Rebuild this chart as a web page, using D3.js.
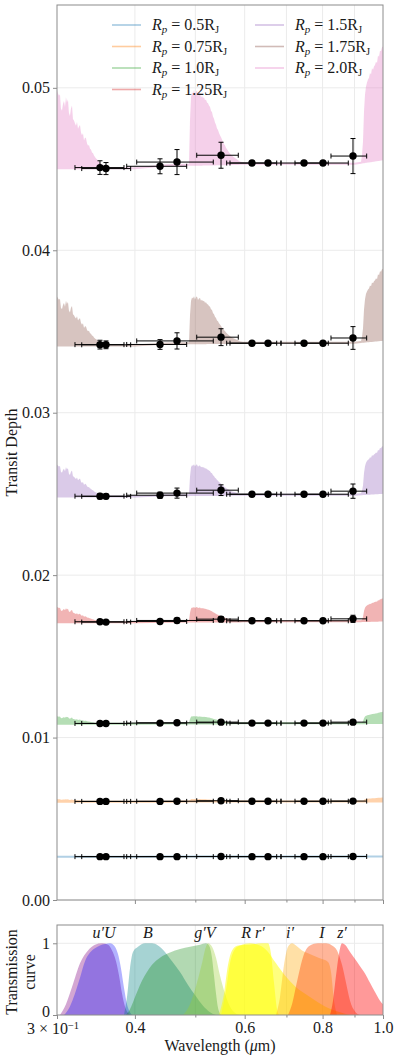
<!DOCTYPE html>
<html>
<head>
<meta charset="utf-8">
<script src="https://cdn.jsdelivr.net/npm/d3@7"></script>
<style>
  body { margin: 0; background: #fff; }
  svg text { font-family: "Liberation Serif", "DejaVu Serif", serif; fill: #1a1a1a; }
</style>
</head>
<body>
<div id="chart"></div>
<script>
// ---------------- data ----------------
// planet radii (legend) and matplotlib tab10 colours
var radii = ["0.5", "0.75", "1.0", "1.25", "1.5", "1.75", "2.0"];
var seriesColors = ["#1f77b4", "#ff7f0e", "#2ca02c", "#d62728", "#9467bd", "#8c564b", "#e377c2"];

// photometric bands: centre and extent (micron)
var bands  = ["u'", "U", "B", "g'", "V", "R", "r'", "i'", "I", "z'"];
var bandWl = [0.3516, 0.3595, 0.4389, 0.4673, 0.5498, 0.6164, 0.6540, 0.7470, 0.8012, 0.8951];
var bandLo = [0.3206, 0.3287, 0.3881, 0.4027, 0.5026, 0.5614, 0.5683, 0.6861, 0.7225, 0.8252];
var bandHi = [0.3842, 0.3938, 0.4843, 0.5343, 0.5860, 0.6753, 0.6861, 0.8170, 0.8797, 0.9415];

// binned transit depths per radius
var depthRp050 = [0.00267, 0.00267, 0.00267, 0.00267, 0.00268, 0.00267, 0.00267, 0.00267, 0.00267, 0.00268];
var depthRp075 = [0.00607, 0.00607, 0.00607, 0.00608, 0.00611, 0.00608, 0.00608, 0.00608, 0.00608, 0.00609];
var depthRp100 = [0.01087, 0.01087, 0.01089, 0.01091, 0.01095, 0.01089, 0.01089, 0.01089, 0.01089, 0.01095];
var depthRp125 = [0.01713, 0.01711, 0.01715, 0.01721, 0.01729, 0.01719, 0.01719, 0.01719, 0.01719, 0.01731];
var depthRp150 = [0.02486, 0.02485, 0.02492, 0.02505, 0.02523, 0.02498, 0.02498, 0.02498, 0.02498, 0.02517];
var depthRp175 = [0.03419, 0.03418, 0.03420, 0.03442, 0.03465, 0.03428, 0.03428, 0.03428, 0.03428, 0.03460];
var depthRp200 = [0.04509, 0.04503, 0.04517, 0.04543, 0.04585, 0.04537, 0.04537, 0.04537, 0.04537, 0.04580];

// 1-sigma errors on the depths
var errRp050 = [0.00002, 0.00002, 0.00002, 0.00003, 0.00003, 0.00001, 0.00001, 0.00001, 0.00001, 0.00004];
var errRp075 = [0.00003, 0.00003, 0.00003, 0.00005, 0.00005, 0.00001, 0.00001, 0.00001, 0.00001, 0.00007];
var errRp100 = [0.00004, 0.00004, 0.00005, 0.00008, 0.00008, 0.00001, 0.00001, 0.00001, 0.00001, 0.00011];
var errRp125 = [0.00008, 0.00007, 0.00009, 0.00015, 0.00016, 0.00003, 0.00003, 0.00003, 0.00003, 0.00022];
var errRp150 = [0.00017, 0.00015, 0.00019, 0.00031, 0.00033, 0.00005, 0.00005, 0.00005, 0.00005, 0.00044];
var errRp175 = [0.00027, 0.00024, 0.00030, 0.00050, 0.00052, 0.00007, 0.00007, 0.00007, 0.00007, 0.00070];
var errRp200 = [0.00042, 0.00037, 0.00046, 0.00077, 0.00080, 0.00010, 0.00010, 0.00010, 0.00010, 0.00108];

// model spectrum: continuum depth and feature amplitude per radius
var modelBase = [0.00267, 0.00605, 0.01085, 0.01710, 0.02484, 0.03414, 0.04505];
var modelAmp  = [0.00003, 0.00016, 0.00045, 0.00090, 0.00190, 0.00290, 0.00460];

// continuum shape (in units of the amplitude)
var floorWl    = [0.30, 0.40, 0.45, 0.60, 0.90, 0.93, 1.00];
var floorLevel = [0.00, 0.00, 0.04, 0.06, 0.06, 0.08, 0.12];

var specLeftWl = [0.3000, 0.3011, 0.3022, 0.3033, 0.3044, 0.3056, 0.3067, 0.3078, 0.3090, 0.3101,
                  0.3112, 0.3124, 0.3135, 0.3147, 0.3159, 0.3171, 0.3182, 0.3194, 0.3206, 0.3218,
                  0.3230, 0.3242, 0.3254, 0.3266, 0.3278, 0.3290, 0.3302, 0.3315, 0.3327, 0.3339,
                  0.3352, 0.3364, 0.3376, 0.3389, 0.3401, 0.3414, 0.3427, 0.3439, 0.3452, 0.3465,
                  0.3478, 0.3490, 0.3503, 0.3516, 0.3529, 0.3542, 0.3555, 0.3568, 0.3582, 0.3595,
                  0.3622, 0.3649];
var specLeftHi = [1.04, 1.00, 0.97, 0.99, 0.80, 0.77, 0.86, 0.90, 0.82, 0.95,
                  0.88, 0.92, 0.74, 0.70, 0.80, 0.84, 0.66, 0.64, 0.60, 0.57,
                  0.62, 0.53, 0.56, 0.58, 0.48, 0.44, 0.47, 0.37, 0.41, 0.40,
                  0.33, 0.30, 0.31, 0.26, 0.25, 0.21, 0.20, 0.17, 0.15, 0.13,
                  0.12, 0.10, 0.09, 0.07, 0.06, 0.05, 0.04, 0.03, 0.03, 0.02,
                  0.01, 0.00];
var specMidWl = [0.4885, 0.4903, 0.4921, 0.4939, 0.4957, 0.4976, 0.4994, 0.5013, 0.5031, 0.5050,
                 0.5068, 0.5087, 0.5106, 0.5125, 0.5144, 0.5163, 0.5182, 0.5201, 0.5220, 0.5240,
                 0.5259, 0.5279, 0.5298, 0.5318, 0.5337, 0.5357, 0.5377, 0.5397, 0.5417, 0.5437,
                 0.5457, 0.5477, 0.5498, 0.5518, 0.5538, 0.5559, 0.5579, 0.5600, 0.5621, 0.5642,
                 0.5662, 0.5683, 0.5725, 0.5768, 0.5811, 0.5854, 0.5897, 0.5962, 0.6029];
var specMidHi = [0.00, 0.60, 0.90, 0.97, 0.95, 1.00, 0.93, 0.98, 0.99, 0.92,
                 0.95, 0.96, 0.90, 0.92, 0.89, 0.90, 0.86, 0.87, 0.83, 0.82,
                 0.79, 0.77, 0.72, 0.70, 0.64, 0.61, 0.56, 0.53, 0.48, 0.46,
                 0.42, 0.39, 0.36, 0.33, 0.30, 0.27, 0.25, 0.22, 0.20, 0.18,
                 0.16, 0.14, 0.11, 0.09, 0.07, 0.05, 0.03, 0.02, 0.00];
var specRightWl = [0.9220, 0.9254, 0.9288, 0.9323, 0.9357, 0.9392, 0.9426, 0.9461, 0.9496, 0.9531,
                   0.9567, 0.9602, 0.9638, 0.9673, 0.9709, 0.9745, 0.9781, 0.9817, 0.9854, 0.9890,
                   0.9927, 0.9963, 1.0000];
var specRightHi = [0.00, 0.10, 0.28, 0.68, 0.90, 1.01, 1.06, 1.10, 1.12, 1.18,
                   1.16, 1.24, 1.22, 1.26, 1.28, 1.32, 1.30, 1.40, 1.38, 1.46,
                   1.45, 1.50, 1.51];

// filter transmission curves
var uPrimeWl = [0.3033, 0.3101, 0.3171, 0.3266, 0.3364, 0.3452, 0.3542, 0.3622, 0.3676, 0.3730, 0.3772, 0.3814, 0.3856, 0.3899, 0.3943];
var uPrimeT  = [0, 0.15, 0.39, 0.72, 0.90, 0.98, 1.00, 0.98, 0.90, 0.75, 0.55, 0.30, 0.12, 0.03, 0];
var uJohnWl  = [0.3078, 0.3147, 0.3206, 0.3266, 0.3327, 0.3389, 0.3452, 0.3516, 0.3582, 0.3649, 0.3703, 0.3758, 0.3800, 0.3842, 0.3885, 0.3928, 0.3972];
var uJohnT   = [0, 0.12, 0.30, 0.52, 0.75, 0.87, 0.93, 0.97, 0.99, 1.00, 0.97, 0.85, 0.65, 0.38, 0.15, 0.04, 0];
var bJohnWl  = [0.3842, 0.3885, 0.3928, 0.3972, 0.4046, 0.4152, 0.4261, 0.4356, 0.4470, 0.4588, 0.4725, 0.4867, 0.4994, 0.5144, 0.5279, 0.5397];
var bJohnT   = [0, 0.25, 0.65, 0.88, 0.95, 1.00, 1.00, 0.97, 0.88, 0.75, 0.60, 0.42, 0.28, 0.13, 0.04, 0];
var gPrimeWl = [0.3871, 0.3928, 0.4002, 0.4076, 0.4168, 0.4261, 0.4389, 0.4554, 0.4725, 0.4903, 0.5087, 0.5201, 0.5259, 0.5318, 0.5357, 0.5397, 0.5437, 0.5498];
var gPrimeT  = [0, 0.08, 0.25, 0.42, 0.58, 0.70, 0.80, 0.87, 0.92, 0.95, 0.98, 1.00, 0.97, 0.80, 0.55, 0.30, 0.10, 0];
var vJohnWl  = [0.4778, 0.4903, 0.5013, 0.5125, 0.5201, 0.5240, 0.5318, 0.5397, 0.5477, 0.5579, 0.5683, 0.5789, 0.5897];
var vJohnT   = [0, 0.15, 0.40, 0.72, 0.95, 1.00, 0.95, 0.80, 0.55, 0.30, 0.12, 0.03, 0];
var rCousWl  = [0.5498, 0.5600, 0.5683, 0.5789, 0.5897, 0.6119, 0.6349, 0.6540, 0.6736, 0.6963, 0.7226, 0.7637, 0.8072, 0.8532, 0.8853];
var rCousT   = [0, 0.35, 0.72, 0.92, 0.97, 1.00, 0.97, 0.88, 0.72, 0.55, 0.40, 0.25, 0.12, 0.04, 0];
var rPrimeWl = [0.5457, 0.5559, 0.5642, 0.5726, 0.5854, 0.6119, 0.6396, 0.6540, 0.6613, 0.6686, 0.6761, 0.6811];
var rPrimeT  = [0, 0.30, 0.70, 0.90, 0.97, 0.98, 1.00, 1.00, 0.85, 0.45, 0.08, 0];
var iPrimeWl = [0.6736, 0.6836, 0.6938, 0.7041, 0.7146, 0.7252, 0.7415, 0.7581, 0.7780, 0.7983, 0.8162, 0.8253, 0.8345, 0.8438];
var iPrimeT  = [0, 0.25, 0.70, 0.95, 1.00, 0.97, 0.90, 0.86, 0.82, 0.78, 0.74, 0.60, 0.20, 0];
var iCousWl  = [0.7041, 0.7146, 0.7252, 0.7360, 0.7470, 0.7637, 0.7866, 0.8102, 0.8283, 0.8438, 0.8595, 0.8723, 0.8853, 0.9018, 0.9186];
var iCousT   = [0, 0.15, 0.40, 0.65, 0.85, 0.97, 1.00, 1.00, 0.97, 0.90, 0.70, 0.45, 0.20, 0.05, 0];
var zPrimeWl = [0.8222, 0.8314, 0.8407, 0.8500, 0.8595, 0.8691, 0.8853, 0.9018, 0.9186, 0.9357, 0.9531, 0.9709, 0.9890, 1.0000];
var zPrimeT  = [0, 0.20, 0.55, 0.85, 1.00, 0.98, 0.88, 0.78, 0.68, 0.58, 0.45, 0.32, 0.20, 0.15];

var filterColors = ["purple", "blue", "teal", "green", "yellowgreen", "yellow", "yellow", "orange", "orangered", "red"];
var filterAlpha  = [0.35, 0.3, 0.35, 0.3, 0.35, 0.5, 0.5, 0.35, 0.4, 0.4];

// labels on top of the filter panel
var filterLabels  = ["u′U", "B", "g′V", "R r′", "i′", "I", "z′"];
var filterLabelWl = [0.3569, 0.4198, 0.5182, 0.6187, 0.7093, 0.7983, 0.8595];

var yTicks = [0, 0.01, 0.02, 0.03, 0.04, 0.05];
var xGrid  = [0.4, 0.5, 0.6, 0.7, 0.8, 0.9];
var xMajor = [0.4, 0.6, 0.8, 1.0];
var xMinor = [0.5, 0.7, 0.9];

// ---------------- layout ----------------
var W = 400, H = 1062;
var boxA = {left: 57, right: 383, top: 5, bottom: 900},     // transit depth panel
    boxB = {left: 57, right: 383, top: 925, bottom: 1015};  // transmission panel

var svg = d3.select("#chart").append("svg")
    .attr("width", W)
    .attr("height", H);

var x = d3.scaleLog().domain([0.3, 1.0]).range([boxA.left, boxA.right]);
var y = d3.scaleLinear().domain([0, 0.0551]).range([boxA.bottom, boxA.top]);
var yT = d3.scaleLinear().domain([0, 1.255]).range([boxB.bottom, boxB.top]);

var defs = svg.append("defs");
defs.append("clipPath").attr("id", "clipA").append("rect")
    .attr("x", boxA.left).attr("y", boxA.top)
    .attr("width", boxA.right - boxA.left).attr("height", boxA.bottom - boxA.top);
defs.append("clipPath").attr("id", "clipB").append("rect")
    .attr("x", boxB.left).attr("y", boxB.top)
    .attr("width", boxB.right - boxB.left).attr("height", boxB.bottom - boxB.top);

var gridColor = "#ebebeb", spineColor = "#8c8c8c";

// ---------------- top panel ----------------
var gA = svg.append("g");

// grid
gA.append("g").selectAll("line").data(yTicks).enter().append("line")
    .attr("x1", boxA.left).attr("x2", boxA.right)
    .attr("y1", function(d) { return y(d); }).attr("y2", function(d) { return y(d); })
    .attr("stroke", gridColor).attr("stroke-width", 1);
gA.append("g").selectAll("line").data(xGrid).enter().append("line")
    .attr("x1", function(d) { return x(d); }).attr("x2", function(d) { return x(d); })
    .attr("y1", boxA.top).attr("y2", boxA.bottom)
    .attr("stroke", gridColor).attr("stroke-width", 1);

var depths = [depthRp050, depthRp075, depthRp100, depthRp125, depthRp150, depthRp175, depthRp200];
var errs   = [errRp050, errRp075, errRp100, errRp125, errRp150, errRp175, errRp200];

// model sampling: union of all knots
var regions = [[specLeftWl, specLeftHi], [specMidWl, specMidHi], [specRightWl, specRightHi]];
var floorScale = d3.scaleLinear().domain(floorWl).range(floorLevel).clamp(true);
var regionScales = regions.map(function(r) {
  return {lo: r[0][0], hi: r[0][r[0].length - 1], s: d3.scaleLinear().domain(r[0]).range(r[1])};
});
var knots = Array.from(new Set(floorWl.concat(specLeftWl, specMidWl, specRightWl))).sort(d3.ascending);
var modelPts = knots.map(function(w) {
  var s = 0;
  regionScales.forEach(function(r) { if (w >= r.lo && w <= r.hi) s = r.s(w); });
  return {w: w, f: floorScale(w), s: s};
});

var plotArea = gA.append("g").attr("clip-path", "url(#clipA)");

radii.forEach(function(r, i) {
  var base = modelBase[i], amp = modelAmp[i];
  var area = d3.area()
      .x(function(d) { return x(d.w); })
      .y0(function(d) { return y(base + amp * d.f) + 1; })
      .y1(function(d) {
        return Math.min(y(base + amp * (d.f + d.s)), y(base + amp * d.f) - 1);
      });
  plotArea.append("path")
      .datum(modelPts)
      .attr("d", area)
      .attr("fill", seriesColors[i])
      .attr("fill-opacity", 0.35);

  // error bars
  var eb = plotArea.append("g").attr("stroke", "#000").attr("stroke-width", 1);
  bands.forEach(function(b, j) {
    var cy = y(depths[i][j]), cx = x(bandWl[j]);
    var xl = x(bandLo[j]), xr = x(bandHi[j]);
    var yt = y(depths[i][j] + errs[i][j]), yb = y(depths[i][j] - errs[i][j]);
    eb.append("line").attr("x1", xl).attr("x2", xr).attr("y1", cy).attr("y2", cy);
    eb.append("line").attr("x1", xl).attr("x2", xl).attr("y1", cy - 2.5).attr("y2", cy + 2.5);
    eb.append("line").attr("x1", xr).attr("x2", xr).attr("y1", cy - 2.5).attr("y2", cy + 2.5);
    eb.append("line").attr("x1", cx).attr("x2", cx).attr("y1", yt).attr("y2", yb);
    eb.append("line").attr("x1", cx - 2.5).attr("x2", cx + 2.5).attr("y1", yt).attr("y2", yt);
    eb.append("line").attr("x1", cx - 2.5).attr("x2", cx + 2.5).attr("y1", yb).attr("y2", yb);
  });
  plotArea.append("g").selectAll("circle").data(depths[i]).enter().append("circle")
      .attr("cx", function(d, j) { return x(bandWl[j]); })
      .attr("cy", function(d) { return y(d); })
      .attr("r", 3.7)
      .attr("fill", "#000");
});

// frame
gA.append("rect")
    .attr("x", boxA.left).attr("y", boxA.top)
    .attr("width", boxA.right - boxA.left).attr("height", boxA.bottom - boxA.top)
    .attr("fill", "none").attr("stroke", spineColor).attr("stroke-width", 1);

// y axis
var yAxis = gA.append("g")
    .attr("transform", "translate(" + boxA.left + ",0)")
    .call(d3.axisLeft(y).tickValues(yTicks).tickFormat(d3.format(".2f")).tickSize(4).tickPadding(3));
yAxis.select(".domain").remove();
yAxis.selectAll(".tick line").attr("stroke", spineColor);
yAxis.selectAll(".tick text").attr("font-size", "16px").attr("font-family", null);

// x ticks of top panel (no labels)
gA.append("g")
    .attr("transform", "translate(0," + boxA.bottom + ")")
    .call(d3.axisBottom(x).tickValues(xMajor).tickFormat("").tickSize(4))
    .call(function(g) { g.select(".domain").remove(); g.selectAll(".tick line").attr("stroke", spineColor); });
gA.append("g")
    .attr("transform", "translate(0," + boxA.bottom + ")")
    .call(d3.axisBottom(x).tickValues(xMinor).tickFormat("").tickSize(2.5))
    .call(function(g) { g.select(".domain").remove(); g.selectAll(".tick line").attr("stroke", spineColor); });

// y label
gA.append("text")
    .attr("transform", "translate(17," + ((boxA.top + boxA.bottom) / 2) + ") rotate(-90)")
    .attr("text-anchor", "middle")
    .attr("font-size", "16px")
    .text("Transit Depth");

// legend (two columns, no frame)
function rpLabel(t, r) {
  t.append("tspan").attr("font-style", "italic").text("R");
  t.append("tspan").attr("font-style", "italic").attr("font-size", "11px").attr("dy", 3).text("p");
  t.append("tspan").attr("dy", -3).text(" = " + r + "R");
  t.append("tspan").attr("font-size", "10.5px").attr("dy", 3).text("J");
}
var legend = gA.append("g");
radii.forEach(function(r, i) {
  var col = i < 4 ? 0 : 1, row = i < 4 ? i : i - 4;
  var lx = col === 0 ? 112 : 255, ly = 25 + row * 21.5;
  legend.append("line")
      .attr("x1", lx).attr("x2", lx + 29).attr("y1", ly).attr("y2", ly)
      .attr("stroke", seriesColors[i]).attr("stroke-opacity", 0.4).attr("stroke-width", 1.6);
  var t = legend.append("text")
      .attr("x", lx + 40).attr("y", ly + 5)
      .attr("font-size", "16px");
  rpLabel(t, r);
});

// ---------------- bottom panel ----------------
var gB = svg.append("g");

gB.append("g").selectAll("line").data([1]).enter().append("line")
    .attr("x1", boxB.left).attr("x2", boxB.right)
    .attr("y1", function(d) { return yT(d); }).attr("y2", function(d) { return yT(d); })
    .attr("stroke", gridColor);
gB.append("g").selectAll("line").data(xGrid).enter().append("line")
    .attr("x1", function(d) { return x(d); }).attr("x2", function(d) { return x(d); })
    .attr("y1", boxB.top).attr("y2", boxB.bottom)
    .attr("stroke", gridColor);

var filters = [[uPrimeWl, uPrimeT], [uJohnWl, uJohnT], [bJohnWl, bJohnT], [gPrimeWl, gPrimeT],
               [vJohnWl, vJohnT], [rCousWl, rCousT], [rPrimeWl, rPrimeT], [iPrimeWl, iPrimeT],
               [iCousWl, iCousT], [zPrimeWl, zPrimeT]];
var filtArea = d3.area()
    .x(function(d) { return x(d[0]); })
    .y0(yT(0))
    .y1(function(d) { return yT(d[1]); })
    .curve(d3.curveMonotoneX);
var filtG = gB.append("g").attr("clip-path", "url(#clipB)");
filters.forEach(function(f, i) {
  filtG.append("path")
      .datum(d3.zip(f[0], f[1]))
      .attr("d", filtArea)
      .attr("fill", filterColors[i])
      .attr("fill-opacity", filterAlpha[i]);
});

filterLabels.forEach(function(l, i) {
  gB.append("text")
      .attr("x", x(filterLabelWl[i]))
      .attr("y", 938)
      .attr("text-anchor", "middle")
      .attr("font-size", "16px")
      .attr("font-style", "italic")
      .text(l);
});

gB.append("rect")
    .attr("x", boxB.left).attr("y", boxB.top)
    .attr("width", boxB.right - boxB.left).attr("height", boxB.bottom - boxB.top)
    .attr("fill", "none").attr("stroke", spineColor);

var yAxB = gB.append("g")
    .attr("transform", "translate(" + boxB.left + ",0)")
    .call(d3.axisLeft(yT).tickValues([0, 1]).tickFormat(d3.format("d")).tickSize(4).tickPadding(3));
yAxB.select(".domain").remove();
yAxB.selectAll(".tick line").attr("stroke", spineColor);
yAxB.selectAll(".tick text").attr("font-size", "16px").attr("font-family", null);
// lift the "0" a little so it clears the 3 x 10^-1 label below it
yAxB.selectAll(".tick text").filter(function(d) { return d === 0; }).attr("dy", "0.1em");

var xAxB = gB.append("g")
    .attr("transform", "translate(0," + boxB.bottom + ")")
    .call(d3.axisBottom(x).tickValues([0.3].concat(xMajor)).tickFormat(function(d) {
      return d === 0.3 ? "" : d3.format(".1f")(d);
    }).tickSize(4).tickPadding(3));
xAxB.select(".domain").remove();
xAxB.selectAll(".tick line").attr("stroke", spineColor);
xAxB.selectAll(".tick text").attr("font-size", "16px").attr("font-family", null);
gB.append("g")
    .attr("transform", "translate(0," + boxB.bottom + ")")
    .call(d3.axisBottom(x).tickValues(xMinor).tickFormat("").tickSize(2.5))
    .call(function(g) { g.select(".domain").remove(); g.selectAll(".tick line").attr("stroke", spineColor); });

// 3 x 10^-1 label
var lab = gB.append("text")
    .attr("x", x(0.3) - 4).attr("y", 1034)
    .attr("text-anchor", "middle")
    .attr("font-size", "16px");
lab.append("tspan").text("3 × 10");
lab.append("tspan").attr("font-size", "10.5px").attr("dy", -5).text("−1");

// axis labels
var xl = gB.append("text")
    .attr("x", (boxB.left + boxB.right) / 2).attr("y", 1051)
    .attr("text-anchor", "middle")
    .attr("font-size", "16px");
xl.append("tspan").text("Wavelength (");
xl.append("tspan").attr("font-style", "italic").text("μ");
xl.append("tspan").text("m)");

gB.append("text")
    .attr("transform", "translate(17," + ((boxB.top + boxB.bottom) / 2 + 2) + ") rotate(-90)")
    .attr("text-anchor", "middle")
    .attr("font-size", "16px")
    .text("Transmission");
gB.append("text")
    .attr("transform", "translate(35," + ((boxB.top + boxB.bottom) / 2 + 2) + ") rotate(-90)")
    .attr("text-anchor", "middle")
    .attr("font-size", "16px")
    .text("curve");
</script>
</body>
</html>
